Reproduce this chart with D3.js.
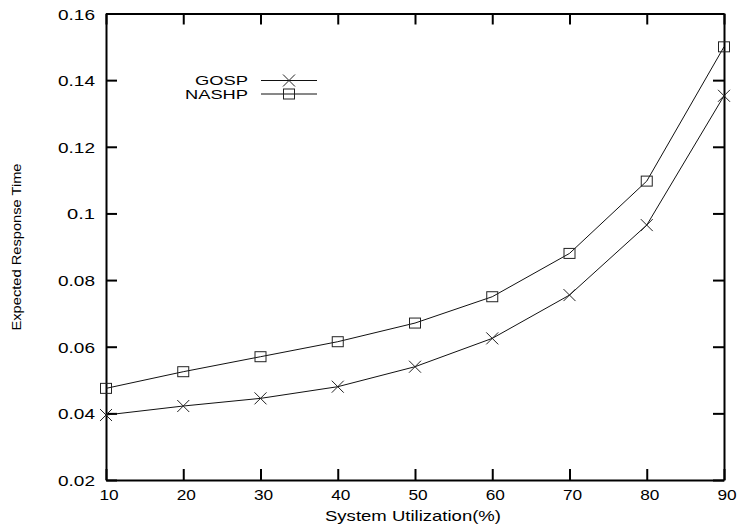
<!DOCTYPE html>
<html>
<head>
<meta charset="utf-8">
<script src="https://cdn.jsdelivr.net/npm/d3@7/dist/d3.min.js"></script>
<style>
  body { margin: 0; background: #fff; }
  svg text { font-family: "Liberation Sans", Arial, sans-serif; fill: #000; }
</style>
</head>
<body>
<svg id="chart" width="739" height="529"></svg>
<script>
// data
var utilization = [10, 20, 30, 40, 50, 60, 70, 80, 90];
var gosp = [0.0395, 0.0422, 0.0445, 0.048, 0.054, 0.0625, 0.0755, 0.0965, 0.1353];
var nashp = [0.0475, 0.0525, 0.057, 0.0615, 0.0671, 0.075, 0.088, 0.1097, 0.15];
var xTicks = [10, 20, 30, 40, 50, 60, 70, 80, 90];
var yTicks = [0.02, 0.04, 0.06, 0.08, 0.1, 0.12, 0.14, 0.16];

var svg = d3.select('#chart');
// plot box (note: "top" is taken by window.top, so use other names)
var plotL = 106, plotR = 724, plotT = 13.5, plotB = 480;

var x = d3.scaleLinear().domain([10, 90]).range([plotL, plotR]);
var y = d3.scaleLinear().domain([0.02, 0.16]).range([plotB, plotT]);

var tickLen = 11;
var fmt = function(d) { return String(+d.toFixed(2)); };

// the original font is a wide helvetica, stretch glyphs horizontally
function stretch(sel, k) {
  sel.each(function() {
    var w = this.getComputedTextLength();
    d3.select(this).attr('textLength', w * k).attr('lengthAdjust', 'spacingAndGlyphs');
  });
}
function fitWidth(sel, w) {
  sel.attr('textLength', w).attr('lengthAdjust', 'spacingAndGlyphs');
}

// axes on all four sides, ticks pointing inward
var gx = svg.append('g').attr('transform', 'translate(0,' + plotB + ')')
  .call(d3.axisBottom(x).tickValues(xTicks).tickSizeInner(-tickLen).tickSizeOuter(0));
var gxTop = svg.append('g').attr('transform', 'translate(0,' + plotT + ')')
  .call(d3.axisTop(x).tickValues(xTicks).tickSizeInner(-tickLen).tickSizeOuter(0).tickFormat(''));
var gy = svg.append('g').attr('transform', 'translate(' + plotL + ',0)')
  .call(d3.axisLeft(y).tickValues(yTicks).tickSizeInner(-tickLen).tickSizeOuter(0).tickFormat(fmt));
var gyRight = svg.append('g').attr('transform', 'translate(' + plotR + ',0)')
  .call(d3.axisRight(y).tickValues(yTicks).tickSizeInner(-tickLen).tickSizeOuter(0).tickFormat(''));

[gx, gxTop, gy, gyRight].forEach(function(g) {
  g.select('.domain').attr('stroke', '#000').attr('stroke-width', 2);
  g.selectAll('.tick line').attr('stroke', '#000').attr('stroke-width', 2);
  g.selectAll('.tick text').attr('font-size', 15).attr('fill', '#000')
    .attr('font-family', '"Liberation Sans", Arial, sans-serif');
});
gx.selectAll('.tick text').attr('x', 2.5).attr('y', 20).attr('dy', 0);
gy.selectAll('.tick text').attr('x', -11).attr('y', 5.5).attr('dy', 0);
stretch(gx.selectAll('.tick text'), 1.15);
fitWidth(gy.selectAll('.tick text').filter(function(d) { return fmt(d).length > 3; }), 37);
fitWidth(gy.selectAll('.tick text').filter(function(d) { return fmt(d).length === 3; }), 28);

// axis titles
svg.append('text')
  .attr('x', 413).attr('y', 521)
  .attr('text-anchor', 'middle').attr('font-size', 15).attr('fill', '#000')
  .text('System Utilization(%)')
  .call(fitWidth, 176);
svg.append('text')
  .attr('transform', 'translate(21,247) rotate(-90)')
  .attr('text-anchor', 'middle').attr('font-size', 13).attr('fill', '#000')
  .text('Expected Response Time')
  .call(fitWidth, 167);

var line = d3.line()
  .x(function(d, i) { return x(utilization[i]); })
  .y(function(d) { return y(d); });

function cross(g, cx, cy) {
  var s = 6;
  g.append('path')
    .attr('d', 'M' + (cx - s) + ',' + (cy - s) + 'L' + (cx + s) + ',' + (cy + s) +
               'M' + (cx - s) + ',' + (cy + s) + 'L' + (cx + s) + ',' + (cy - s))
    .attr('stroke', '#222').attr('stroke-width', 1).attr('fill', 'none');
}
function square(g, cx, cy) {
  g.append('rect')
    .attr('x', cx - 5.5).attr('y', cy - 5).attr('width', 11).attr('height', 10)
    .attr('stroke', '#222').attr('stroke-width', 1).attr('fill', 'none');
}

var series = [
  { name: 'GOSP', values: gosp, marker: cross, width: 53 },
  { name: 'NASHP', values: nashp, marker: square, width: 63 }
];

series.forEach(function(s, k) {
  var g = svg.append('g');
  g.append('path').datum(s.values)
    .attr('d', line)
    .attr('fill', 'none').attr('stroke', '#111').attr('stroke-width', 1);
  s.values.forEach(function(v, i) { s.marker(g, x(utilization[i]), y(v)); });

  // legend entry
  var ly = 80.5 + k * 13.5;
  svg.append('text')
    .attr('x', 248).attr('y', ly + 4.5)
    .attr('text-anchor', 'end').attr('font-size', 13).attr('fill', '#000')
    .text(s.name)
    .call(fitWidth, s.width);
  svg.append('line')
    .attr('x1', 261).attr('x2', 317).attr('y1', ly).attr('y2', ly)
    .attr('stroke', '#111').attr('stroke-width', 1);
  s.marker(svg, 289, ly);
});
</script>
</body>
</html>
